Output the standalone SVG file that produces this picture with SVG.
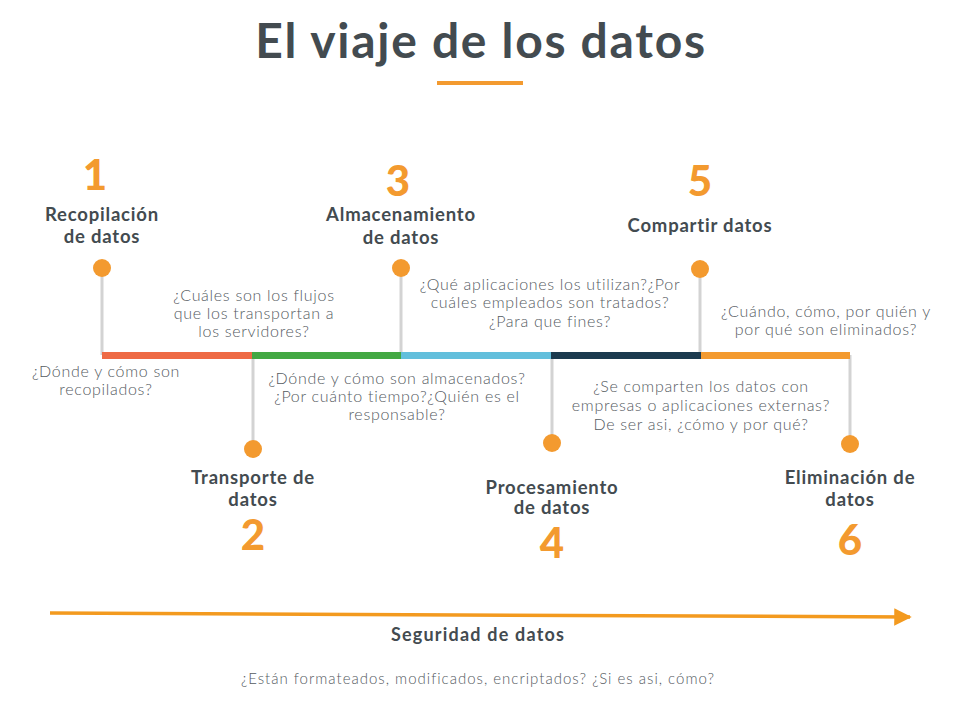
<svg xmlns="http://www.w3.org/2000/svg" width="960" height="720" viewBox="0 0 960 720">
<style>
.t{font-family:Lato,"Open Sans","Liberation Sans",sans-serif;fill:#434b50;text-anchor:middle}
.title{font-size:48px;font-weight:700;letter-spacing:1.7px}
.h{font-size:18.5px;font-weight:700;letter-spacing:0.8px}
.n{font-size:42px;font-weight:900;fill:#f39a2f}
.b{font-size:16px;font-weight:300;fill:#555b5f;letter-spacing:0.7px}
.stem{stroke:#d3d3d3;stroke-width:3}
.dot{fill:#f39a2f}
</style>
<defs>
<marker id="ah" viewBox="0 0 10 10" refX="9" refY="5" markerWidth="5" markerHeight="5" orient="auto" markerUnits="strokeWidth"><path d="M0 0L10 5L0 10Z" fill="#f39a1f"/></marker>
</defs>
<rect width="960" height="720" fill="#fff"/>
<g id="title">
<text class="t title" x="481" y="58">El viaje de los datos</text>
<rect x="437" y="81" width="86" height="4" fill="#f39a2f"/>
</g>
<g id="connectors">
<line class="stem" x1="102" y1="268" x2="102" y2="355"/>
<line class="stem" x1="253" y1="355" x2="253" y2="449"/>
<line class="stem" x1="401" y1="268" x2="401" y2="355"/>
<line class="stem" x1="552" y1="355" x2="552" y2="443"/>
<line class="stem" x1="700" y1="269" x2="700" y2="355"/>
<line class="stem" x1="850" y1="355" x2="850" y2="444"/>
<rect x="102" y="352" width="150" height="7" fill="#ee6a45"/>
<rect x="252" y="352" width="149" height="7" fill="#43a843"/>
<rect x="401" y="352" width="150" height="7" fill="#62bfdc"/>
<rect x="551" y="352" width="150" height="7" fill="#1b3a4e"/>
<rect x="701" y="352" width="149" height="7" fill="#f39a2f"/>
<line x1="50" y1="613" x2="910" y2="617" stroke="#f39a1f" stroke-width="3.5" marker-end="url(#ah)"/>
</g>
<g id="n1">
<circle class="dot" cx="102" cy="268" r="9"/>
<text class="t n" x="95" y="190">1</text>
<text class="t h" x="102" y="221">Recopilación</text>
<text class="t h" x="102" y="243">de datos</text>
<text class="t b" x="106" y="377">¿Dónde y cómo son</text>
<text class="t b" x="106" y="395">recopilados?</text>
</g>
<g id="n2">
<circle class="dot" cx="253" cy="449" r="9"/>
<text class="t n" x="253" y="550">2</text>
<text class="t h" x="253" y="484">Transporte de</text>
<text class="t h" x="253" y="506">datos</text>
<text class="t b" x="254" y="301">¿Cuáles son los flujos</text>
<text class="t b" x="254" y="319">que los transportan a</text>
<text class="t b" x="254" y="337">los servidores?</text>
</g>
<g id="n3">
<circle class="dot" cx="401" cy="268" r="9"/>
<text class="t n" x="398" y="196">3</text>
<text class="t h" x="401" y="221">Almacenamiento</text>
<text class="t h" x="401" y="244">de datos</text>
<text class="t b" x="397" y="384">¿Dónde y cómo son almacenados?</text>
<text class="t b" x="397" y="402">¿Por cuánto tiempo?¿Quién es el</text>
<text class="t b" x="397" y="420">responsable?</text>
</g>
<g id="n4">
<circle class="dot" cx="552" cy="443" r="9"/>
<text class="t n" x="552" y="558">4</text>
<text class="t h" x="552" y="494">Procesamiento</text>
<text class="t h" x="552" y="514">de datos</text>
<text class="t b" x="550" y="290">¿Qué aplicaciones los utilizan?¿Por</text>
<text class="t b" x="550" y="308">cuáles empleados son tratados?</text>
<text class="t b" x="550" y="327">¿Para que fines?</text>
</g>
<g id="n5">
<circle class="dot" cx="700" cy="269" r="9"/>
<text class="t n" x="700" y="196">5</text>
<text class="t h" x="700" y="232">Compartir datos</text>
<text class="t b" x="701" y="392">¿Se comparten los datos con</text>
<text class="t b" x="701" y="411">empresas o aplicaciones externas?</text>
<text class="t b" x="701" y="430">De ser asi, ¿cómo y por qué?</text>
</g>
<g id="n6">
<circle class="dot" cx="850" cy="444" r="9"/>
<text class="t n" x="850" y="555">6</text>
<text class="t h" x="850" y="484">Eliminación de</text>
<text class="t h" x="850" y="506">datos</text>
<text class="t b" x="826" y="317">¿Cuándo, cómo, por quién y</text>
<text class="t b" x="826" y="335">por qué son eliminados?</text>
</g>
<g id="security">
<text class="t h" x="478" y="641" style="font-size:18px;letter-spacing:1.2px">Seguridad de datos</text>
<text class="t b" x="478" y="684" style="font-size:15px;letter-spacing:1px">¿Están formateados, modificados, encriptados? ¿Si es asi, cómo?</text>
</g>
</svg>
